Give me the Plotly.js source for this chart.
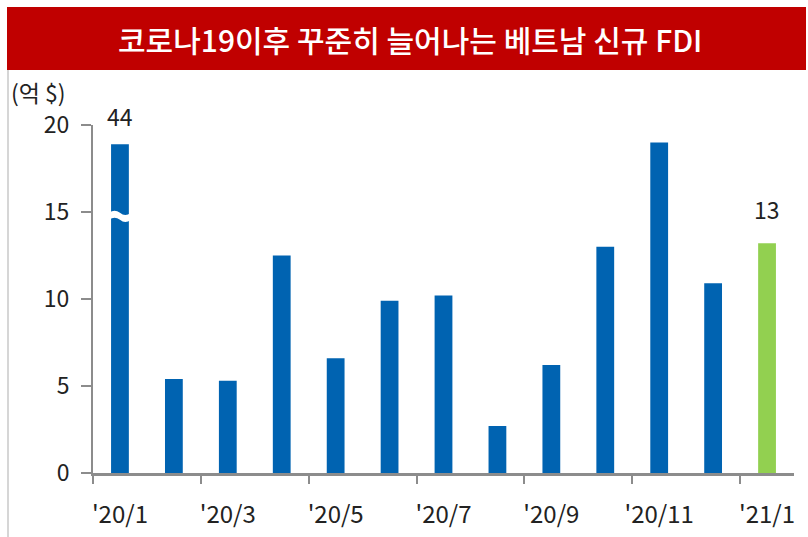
<!DOCTYPE html>
<html>
<head>
<meta charset="utf-8">
<script src="https://cdn.plot.ly/plotly-3.0.1.min.js"></script>
<style>html,body{margin:0;padding:0;background:#fff;}#chart{width:808px;height:537px;}</style>
</head>
<body>
<div id="chart"></div>
<script>
// ---- data ----
const categories = ["'20/1","'20/2","'20/3","'20/4","'20/5","'20/6","'20/7","'20/8","'20/9","'20/10","'20/11","'20/12","'21/1"];
const values = [44, 5.4, 5.3, 12.5, 6.6, 9.9, 10.2, 2.7, 6.2, 13.0, 19.0, 10.9, 13.2];
const labeledIdx = [0, 12];           // bars with value labels
const highlightIdx = 12;              // green bar
const yTickVals = [0, 5, 10, 15, 20];
const titleText = "코로나19이후 꾸준히 늘어나는 베트남 신규 FDI";
const unitText = "(억 $)";
const breakCap = 18.9;                // broken-axis display height for values beyond the scale
const breakAt = 14.75;

// ---- geometry ----
const W = 808, H = 537;
const M = {l: 93, r: 14, t: 125, b: 64};
const pw = W - M.l - M.r, ph = H - M.t - M.b;
const px = x => (x - M.l) / pw;
const py = y => (H - M.b - y) / ph;

const idx = categories.map((_, i) => i);
const shown = values.map(v => v > 20 ? breakCap : v);
const colors = idx.map(i => i === highlightIdx ? '#92D050' : '#0063B1');
const font = '"Noto Sans CJK KR", "Noto Sans", sans-serif';

const traces = [{
  type: 'bar', x: idx, y: shown, width: 0.33,
  marker: {color: colors, line: {width: 0}},
  hoverinfo: 'skip', cliponaxis: false
}, {
  type: 'scatter', x: [-0.5, 12.5], y: [0, 0], xaxis: 'x2', mode: 'lines',
  line: {width: 0}, hoverinfo: 'skip', showlegend: false
}];

const annotations = labeledIdx.map(i => ({
  x: i, y: shown[i], xref: 'x', yref: 'y', text: String(Math.round(values[i])),
  showarrow: false, yanchor: 'bottom', yshift: i === 0 ? 9 : 15,
  font: {family: font, size: 23, color: '#222'}
}));
annotations.push({
  x: px(410), y: py(39), xref: 'paper', yref: 'paper', text: titleText,
  showarrow: false, xanchor: 'center', yanchor: 'middle',
  font: {family: font, size: 30, color: '#fff', weight: 500}
});
annotations.push({
  x: px(9), y: py(92), xref: 'paper', yref: 'paper', text: unitText,
  showarrow: false, xanchor: 'left', yanchor: 'middle',
  font: {family: font, size: 23, color: '#222'}
});

// axis break on bar(s) beyond scale
const shapes = [];
values.forEach((v, i) => {
  if (v > 20) {
    const a = i - 0.2, b = i + 0.2, lo = breakAt - 0.2, hi = breakAt + 0.2;
    shapes.push({
      type: 'path', xref: 'x', yref: 'y', layer: 'above',
      path: `M ${a} ${hi} Q ${i - 0.1} ${hi + 0.25} ${i} ${hi} T ${b} ${hi} L ${b} ${lo} Q ${i + 0.1} ${lo - 0.25} ${i} ${lo} T ${a} ${lo} Z`,
      fillcolor: '#fff', line: {width: 0}
    });
  }
});
shapes.push({type: 'rect', xref: 'paper', yref: 'paper', x0: px(7), x1: px(806), y0: py(70), y1: py(7),
  fillcolor: '#C00000', line: {width: 0}, layer: 'below'});
shapes.push({type: 'line', xref: 'paper', yref: 'paper', x0: px(8), x1: px(8), y0: py(70), y1: py(537),
  line: {color: '#C8C8C8', width: 1.5}});

const layout = {
  width: W, height: H, margin: M, showlegend: false,
  paper_bgcolor: '#fff', plot_bgcolor: '#fff',
  xaxis: {
    range: [-0.5, 12.5], tickmode: 'array',
    tickvals: idx.filter(i => i % 2 === 0),
    ticktext: categories.filter((_, i) => i % 2 === 0),
    ticks: '', showline: true, linecolor: '#8C8C8C', linewidth: 2.5,
    showgrid: false, zeroline: false, ticklabelstandoff: 19,
    tickfont: {family: font, size: 24, color: '#222'}, fixedrange: true
  },
  xaxis2: {
    overlaying: 'x', range: [-0.5, 12.5], tickmode: 'array',
    tickvals: idx.filter(i => i % 2 === 0).map(i => i - 0.5),
    ticktext: idx.filter(i => i % 2 === 0).map(() => ''),
    ticks: 'outside', ticklen: 10, tickwidth: 2, tickcolor: '#8C8C8C',
    showline: false, showgrid: false, zeroline: false, side: 'bottom', fixedrange: true
  },
  yaxis: {
    range: [0, 20], tickmode: 'array', tickvals: yTickVals,
    ticks: 'outside', ticklen: 10, tickwidth: 2, tickcolor: '#8C8C8C',
    showline: true, linecolor: '#8C8C8C', linewidth: 2,
    showgrid: false, zeroline: false, ticklabelstandoff: 7,
    tickfont: {family: font, size: 23, color: '#222'}, fixedrange: true
  },
  annotations, shapes
};

Plotly.newPlot('chart', traces, layout, {displayModeBar: false, staticPlot: true});
</script>
</body>
</html>
